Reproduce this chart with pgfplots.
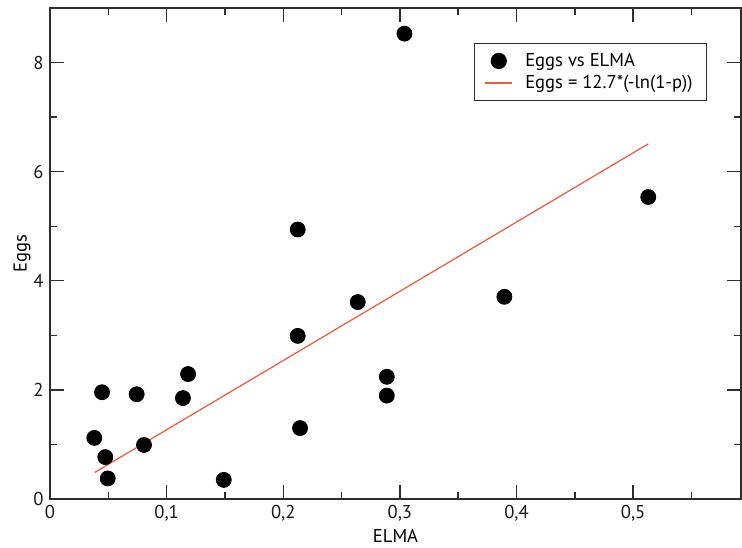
\documentclass[border=0pt]{standalone}
\usepackage{fontspec}
\setmainfont{PT Sans}
\usepackage{pgfplots}
\pgfplotsset{compat=1.18}
\definecolor{fitred}{RGB}{238,88,60}
\definecolor{axgray}{RGB}{50,45,45}
\pgfplotsset{
  shortline/.style={legend image code/.code={\draw[##1] (0pt,0pt) -- (13.5pt,0pt); \path[draw=none] (0pt,0pt) -- (18pt,0pt);}},
  shortmark/.style={legend image code/.code={\draw[##1] plot coordinates {(6.75pt,0pt)}; \path[draw=none] (0pt,0pt) -- (18pt,0pt);}},
}
\begin{document}
\fontsize{9.3}{11}\selectfont
\begin{tikzpicture}
\begin{axis}[
  scale only axis, width=345.5pt, height=245.5pt,
  xmin=0, xmax=0.5925, ymin=0, ymax=9,
  xtick={0,0.1,0.2,0.3,0.4,0.5}, ytick={0,2,4,6,8},
  minor xtick={0.05,0.15,0.25,0.35,0.45,0.55}, minor ytick={1,3,5,7},
  tick align=inside, major tick length=7pt, minor tick length=3.5pt,
  axis line style={axgray, line width=0.7pt},
  every tick/.style={axgray, line width=0.7pt},
  /pgf/number format/assume math mode=true,
  xticklabel style={/pgf/number format/.cd, fixed, use comma, precision=1},
  tick label style={font=\fontsize{9.3}{11}\selectfont, text=black!90},
  xlabel={ELMA}, ylabel={Eggs},
  xlabel style={at={(axis description cs:0.5,0)}, anchor=base, yshift=-22pt, font=\fontsize{9.3}{11}\selectfont},
  ylabel style={at={(axis description cs:-0.0405,0.5)}, anchor=center, font=\fontsize{9.3}{11}\selectfont},
  legend style={at={(rel axis cs:0.951,0.929)}, anchor=north east, draw=axgray, line width=0.6pt,
    font=\fontsize{9.3}{11}\selectfont, inner xsep=5pt, inner ysep=4.25pt, row sep=2pt,
    nodes={inner ysep=0.5pt}},
  legend cell align=left,
]
\addplot[only marks, mark=*, mark size=3.75pt, mark options={fill=black, draw=black}, shortmark]
coordinates {
(0.0380,1.12) (0.0446,1.957) (0.0474,0.768) (0.0495,0.377)
(0.0743,1.92) (0.0806,0.99) (0.1140,1.85) (0.1184,2.29)
(0.1490,0.35) (0.2124,4.94) (0.2124,2.99) (0.2144,1.30)
(0.2639,3.61) (0.2888,2.24) (0.2888,1.895) (0.3039,8.53)
(0.3896,3.706) (0.5130,5.535)
};
\addlegendentry{Eggs vs ELMA}
\addplot[fitred, line width=0.6pt, no marks, shortline]
coordinates {(0.0383,0.486) (0.5130,6.51)};
\addlegendentry{Eggs = 12.7*(-ln(1-p))}
\coordinate (SW) at (rel axis cs:0,0);
\coordinate (NE) at (rel axis cs:1,1);
\end{axis}
\pgfresetboundingbox
\path[use as bounding box] ([shift={(-25pt,-24.5pt)}]SW) rectangle ([shift={(0.5pt,4pt)}]NE);
\end{tikzpicture}
\end{document}
